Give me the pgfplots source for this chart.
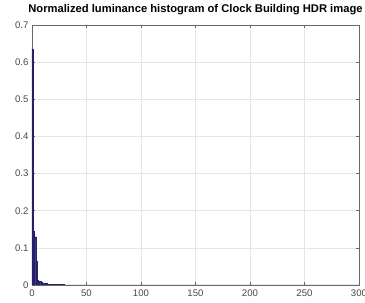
\documentclass[border=0pt]{standalone}
\usepackage{pgfplots}
\pgfplotsset{compat=1.18}
\usepackage{fontspec}
\setmainfont{Liberation Sans}
\definecolor{barfill}{RGB}{62,54,150}
\definecolor{baredge}{RGB}{38,32,105}
\definecolor{tickc}{RGB}{38,38,38}
\begin{document}
\begin{tikzpicture}
\begin{axis}[
  scale only axis,
  width=327pt, height=260pt,
  xmin=0, xmax=300, ymin=0, ymax=0.7,
  xtick={0,50,...,300}, ytick={0,0.1,...,0.7},
  yticklabels={0,0.1,0.2,0.3,0.4,0.5,0.6,0.7},
  grid=major,
  grid style={gray!20, line width=0.5pt},
  tick align=inside,
  major tick length=3pt,
  axis line style={tickc!70, line width=0.6pt},
  tick style={tickc!70, line width=0.6pt},
  tick label style={font=\fontsize{9.6}{11}\selectfont, text=tickc!85},
  /pgf/number format/assume math mode=true,
  title={\bfseries Normalized luminance histogram of Clock Building HDR image},
  title style={font=\fontsize{11.2}{13}\selectfont, at={(0.5,1)}, anchor=base, inner sep=0pt, yshift=6.5pt},
  xticklabel style={yshift=-1pt},
]
\addplot[ybar interval, fill=barfill, draw=baredge, line width=0.4pt] coordinates {
(0,0.635) (1.2,0.145) (2.4,0.13) (3.5,0.065) (4.6,0.013) (5.8,0.011) (7,0.009) (8.2,0.007)
(9.4,0.006) (10.6,0.005) (11.8,0.004) (13,0.0035) (14.2,0.003) (15.4,0.0025) (16.6,0.002)
(17.8,0.0018) (19,0.0015) (20.2,0.0013) (21.4,0.0011) (22.6,0.001) (24,0.0009) (26,0.0008)
(30,0.0006) (35,0.0005) (40,0.0004) (50,0.0003) (60,0.0002) (80,0.00015) (100,0.0001) (150,0.00005) (300,0.00005)
};
\end{axis}
\pgfresetboundingbox
\path[use as bounding box] ([shift={(-32pt,-18pt)}]current axis.south west) rectangle ([shift={(6pt,25pt)}]current axis.north east);
\end{tikzpicture}
\end{document}
